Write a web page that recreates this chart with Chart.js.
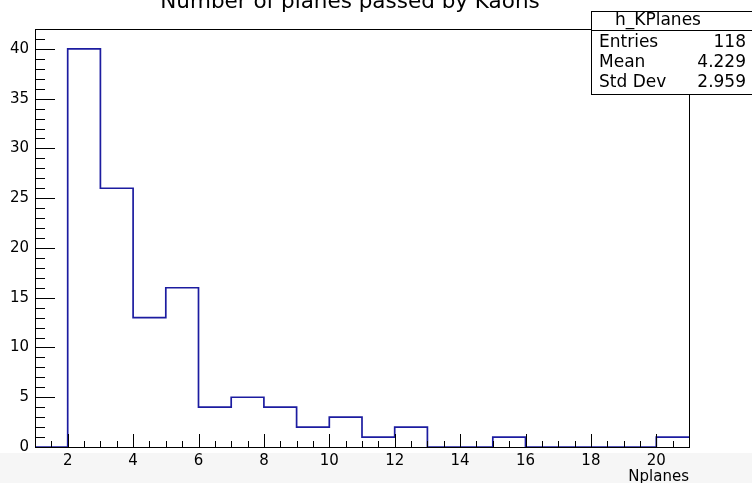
<!DOCTYPE html>
<html>
<head>
<meta charset="utf-8">
<script src="https://cdn.jsdelivr.net/npm/chart.js@4/dist/chart.umd.min.js"></script>
<style>
  html, body { margin: 0; padding: 0; background: #ffffff; }
  #wrap { width: 752px; height: 483px; position: relative; }
</style>
</head>
<body>
<div id="wrap"><canvas id="c" width="752" height="483"></canvas></div>
<script>
// Histogram h_KPlanes: number of planes passed by kaons
const binEdges = [1, 2, 3, 4, 5, 6, 7, 8, 9, 10, 11, 12, 13, 14, 15, 16, 17, 18, 19, 20, 21];
const binCounts = [0, 40, 26, 13, 16, 4, 5, 4, 2, 3, 1, 2, 0, 0, 1, 0, 0, 0, 0, 1];
const xTickLabels = [2, 4, 6, 8, 10, 12, 14, 16, 18, 20];
const yTickLabels = [0, 5, 10, 15, 20, 25, 30, 35, 40];
const histTitle = 'Number of planes passed by Kaons';
const histName = 'h_KPlanes';
const statNames = ['Entries', 'Mean', 'Std Dev'];
const statValues = ['118', '4.229', '2.959'];
const xAxisTitle = 'Nplanes';

const FONT = '"DejaVu Sans", Verdana, sans-serif';
const LINE = '#1c1ca0';

// step outline: each bin holds its count from its low edge to the next edge
const stepPoints = binCounts.map((c, i) => ({ x: binEdges[i], y: c }));
stepPoints.push({ x: binEdges[binEdges.length - 1], y: binCounts[binCounts.length - 1] });

const decorPlugin = {
  id: 'decor',
  beforeDraw(chart) {
    const ctx = chart.ctx;
    ctx.save();
    ctx.fillStyle = '#ffffff';
    ctx.fillRect(0, 0, chart.width, chart.height);
    ctx.fillStyle = '#f6f6f6';
    ctx.fillRect(0, 453, chart.width, chart.height - 453);
    ctx.restore();
  },
  afterDraw(chart) {
    const ctx = chart.ctx;
    const a = chart.chartArea;
    const xs = chart.scales.x, ys = chart.scales.y;
    ctx.save();
    ctx.strokeStyle = '#000';
    ctx.lineWidth = 1;

    // frame, drawn over the histogram outline
    ctx.strokeRect(Math.round(a.left) + 0.5, Math.round(a.top) + 0.5,
                   Math.round(a.right - a.left), Math.round(a.bottom - a.top));

    // inward ticks on x axis: major every 2, minor every 0.5
    ctx.beginPath();
    for (let v = xs.min; v <= xs.max + 1e-9; v += 0.5) {
      const px = Math.round(xs.getPixelForValue(v)) + 0.5;
      const major = xTickLabels.includes(v);
      const len = major ? 13 : 6;
      ctx.moveTo(px, a.bottom);
      ctx.lineTo(px, a.bottom - len);
    }
    // inward ticks on y axis: major every 5, minor every 1
    for (let v = ys.min; v <= ys.max + 1e-9; v += 1) {
      const py = Math.round(ys.getPixelForValue(v)) + 0.5;
      const major = yTickLabels.includes(v);
      const len = major ? 20 : 10;
      ctx.moveTo(a.left, py);
      ctx.lineTo(a.left + len, py);
    }
    ctx.stroke();

    // title, partly above the canvas
    ctx.fillStyle = '#000';
    ctx.font = '21.5px ' + FONT;
    ctx.textAlign = 'center';
    ctx.textBaseline = 'alphabetic';
    ctx.fillText(histTitle, 350, 8);

    // statistics box
    const bx = 591.5, by = 11.5, bw = 200, bh = 83;
    ctx.fillStyle = '#fff';
    ctx.fillRect(bx, by, bw, bh);
    ctx.strokeRect(bx, by, bw, bh);
    ctx.beginPath();
    ctx.moveTo(bx, 30.5);
    ctx.lineTo(bx + bw, 30.5);
    ctx.stroke();

    ctx.fillStyle = '#000';
    ctx.font = '17px ' + FONT;
    ctx.textBaseline = 'middle';
    ctx.textAlign = 'center';
    ctx.fillText(histName, 658, 21);
    const rowY = [43, 63, 83];
    statNames.forEach((n, i) => {
      ctx.textAlign = 'left';
      ctx.fillText(n, 599, rowY[i]);
      ctx.textAlign = 'right';
      ctx.fillText(statValues[i], 746, rowY[i]);
    });
    ctx.restore();
  }
};

new Chart(document.getElementById('c'), {
  type: 'line',
  data: {
    datasets: [{
      data: stepPoints,
      stepped: 'before',
      borderColor: LINE,
      borderWidth: 1.7,
      pointRadius: 0,
      fill: false,
      clip: false
    }]
  },
  options: {
    responsive: false,
    animation: false,
    devicePixelRatio: 1,
    layout: { padding: { top: 29, right: 63, left: 0, bottom: 0 } },
    plugins: { legend: { display: false }, tooltip: { enabled: false }, title: { display: false } },
    scales: {
      x: {
        type: 'linear',
        min: binEdges[0],
        max: binEdges[binEdges.length - 1],
        grid: { display: false, drawTicks: false },
        border: { display: false },
        afterBuildTicks: s => { s.ticks = xTickLabels.map(v => ({ value: v })); },
        afterFit: s => { s.height = 36; },
        ticks: {
          autoSkip: false, maxRotation: 0, padding: 5,
          color: '#000', font: { family: FONT, size: 15 }
        },
        title: {
          display: true, text: xAxisTitle, align: 'end',
          color: '#000', font: { family: FONT, size: 15 },
          padding: { top: 0, bottom: -3 }
        }
      },
      y: {
        type: 'linear',
        min: 0,
        max: 42,
        grid: { display: false, drawTicks: false },
        border: { display: false },
        afterBuildTicks: s => { s.ticks = yTickLabels.map(v => ({ value: v })); },
        afterFit: s => { s.width = 35; },
        ticks: {
          autoSkip: false, padding: 6,
          color: '#000', font: { family: FONT, size: 15 }
        }
      }
    }
  },
  plugins: [decorPlugin]
});
</script>
</body>
</html>
